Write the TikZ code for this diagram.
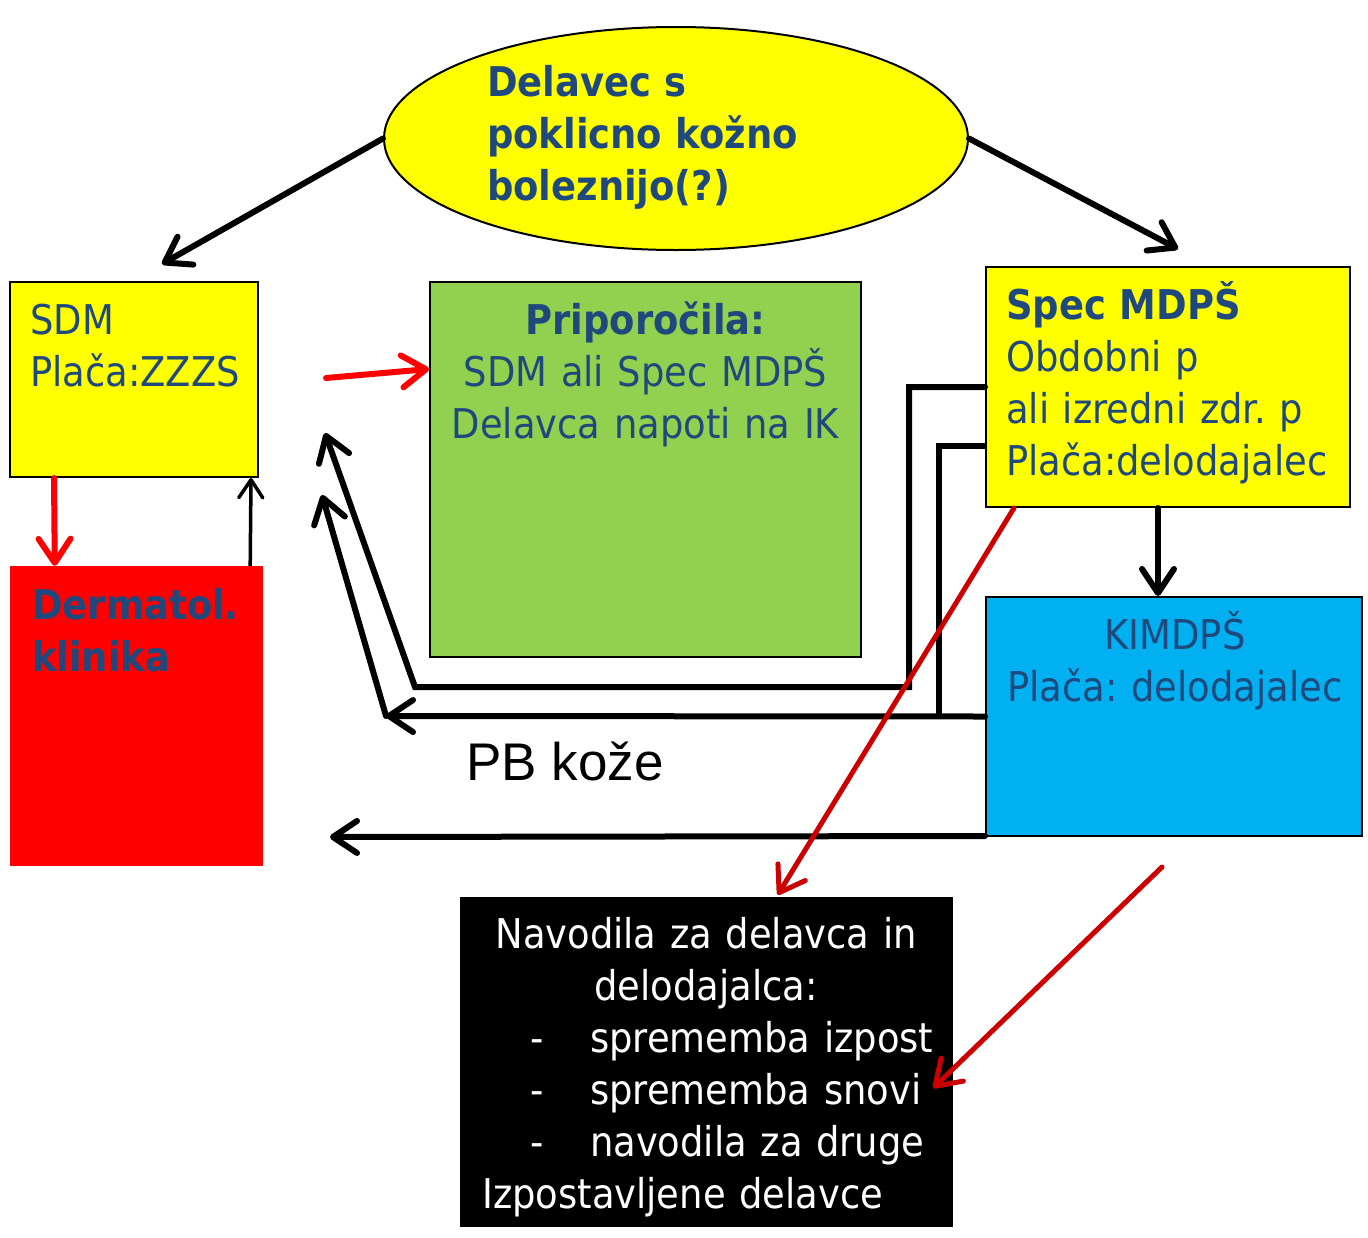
\documentclass[tikz,border=0pt]{standalone}
\usepackage{fontspec}
\setmainfont{DejaVu Sans Condensed}
\newfontfamily\arialfont{Liberation Sans}
\usetikzlibrary{arrows.meta, shapes.geometric, positioning, calc}
\definecolor{boxyellow}{HTML}{FFFF00}
\definecolor{boxgreen}{HTML}{92D050}
\definecolor{boxcyan}{HTML}{00B0F0}
\definecolor{boxred}{HTML}{FF0000}
\definecolor{darkred}{HTML}{CC0000}
\definecolor{textblue}{HTML}{1F497D}
\frenchspacing
\tikzset{
  every node/.style={font=\fontsize{41}{52}\selectfont, inner sep=0pt, text=textblue},
  box/.style={rectangle, draw=black, line width=2pt},
  boxtext/.style={anchor=base west, text width=#1, align=left},
  midtext/.style={anchor=base, text width=#1, align=center},
  conn/.style={line width=6pt, line cap=round, -{Straight Barb[length=24pt,width=32pt,round]}},
  thinconn/.style={line width=3.5pt, -{Straight Barb[length=18pt,width=24pt,round]}},
  redconn/.style={conn, draw=boxred},
  darkconn/.style={conn, draw=darkred, line width=5pt},
  route/.style={line width=6pt, line join=miter}
}
\newcommand{\itemline}[1]{\hspace*{48pt}\makebox[60pt][l]{-}\mbox{#1}}
\begin{document}
\begin{tikzpicture}[x=1pt, y=-1pt]
  \useasboundingbox (0,0) rectangle (1368,1237);

  % nodes
  \node[ellipse, draw=black, line width=2pt, fill=boxyellow, minimum width=584pt, minimum height=223pt] (worker) at (676,138.5) {};
  \node[boxtext=340pt, font=\bfseries\fontsize{41}{52}\selectfont] (workertext) at (487,96) {Delavec s\\poklicno kožno\\boleznijo(?)};

  \node[box, fill=boxyellow, minimum width=248pt, minimum height=195pt] (sdm) at (134,379.5) {};
  \node[boxtext=220pt] (sdmtext) at (30,334) {SDM\\Plača:ZZZS};

  \node[rectangle, fill=boxred, minimum width=253pt, minimum height=300pt] (derm) at (136.5,716) {};
  \node[boxtext=230pt, font=\bfseries\fontsize{41}{52}\selectfont] (dermtext) at (32,619) {Dermatol.\\klinika};

  \node[box, fill=boxgreen, minimum width=431pt, minimum height=375pt] (reco) at (645.5,469.5) {};
  \node[midtext=420pt] (recotext) at (645.5,334) {\textbf{Priporočila:}\\SDM ali Spec MDPŠ\\Delavca napoti na IK};

  \node[box, fill=boxyellow, minimum width=364pt, minimum height=240pt] (spec) at (1168,387) {};
  \node[boxtext=400pt] (spectext) at (1006,319) {\textbf{Spec MDPŠ}\\Obdobni p\\ali izredni zdr. p\\Plača:delodajalec};

  \node[box, fill=boxcyan, minimum width=376pt, minimum height=239pt] (kim) at (1174,716.5) {};
  \node[midtext=370pt] (kimtext) at (1175,649) {KIMDPŠ\\Plača: delodajalec};

  \node[rectangle, fill=black, minimum width=493pt, minimum height=330pt] (advice) at (706.5,1062) {};
  \node[anchor=base west, text width=470pt, align=left, text=white] (advicetext) at (482,948) {\makebox[448pt][c]{Navodila za delavca in}\\
    \makebox[448pt][c]{delodajalca:}\\
    \itemline{sprememba izpost}\\
    \itemline{sprememba snovi}\\
    \itemline{navodila za druge}\\
    Izpostavljene delavce};

  \node[anchor=base west, text=black, font=\arialfont\fontsize{53}{60}\selectfont] (pblabel) at (466,780) {PB kože};

  % free ends
  \coordinate (redstart) at (326,378);
  \coordinate (bendA) at (415,687);
  \coordinate (tipA) at (325,433);
  \coordinate (tipB) at (386,716);
  \coordinate (tipC) at (322,495);
  \coordinate (tipD) at (330,837);
  \coordinate (darkstart) at (1162,867);

  % connectors
  \draw[conn] (worker.west) -- ([shift={(28,-17)}]sdm.north);
  \draw[conn] (worker.east) -- ([shift={(10,-17)}]spec.north);
  \draw[redconn] ([shift={(45,0)}]sdm.south west) -- ([shift={(45,0)}]derm.north west);
  \draw[thinconn] ([shift={(-13,0)}]derm.north east) -- ([shift={(-8,0)}]sdm.south east);
  \draw[redconn] (redstart) -- ([shift={(0,88)}]reco.north west);
  \draw[route, conn] (spec.west) -- ++(-76,0) |- (bendA) -- (tipA);
  \draw[route] ([shift={(0,59)}]spec.west) -- ++(-46,0) -- ++(0,270);
  \draw[conn] (kim.west) -- (tipB);
  \draw[conn] (tipB) -- (tipC);
  \draw[conn] ([shift={(0,-1)}]kim.south west) -- (tipD);
  \draw[conn] ([shift={(-10,0)}]spec.south) -- ([shift={(-16,0)}]kim.north);
  \draw[darkconn] ([shift={(29,0)}]spec.south west) -- ([shift={(318,-2)}]advice.north west);
  \draw[darkconn] (darkstart) -- ([shift={(-20,26)}]advice.east);
\end{tikzpicture}
\end{document}
